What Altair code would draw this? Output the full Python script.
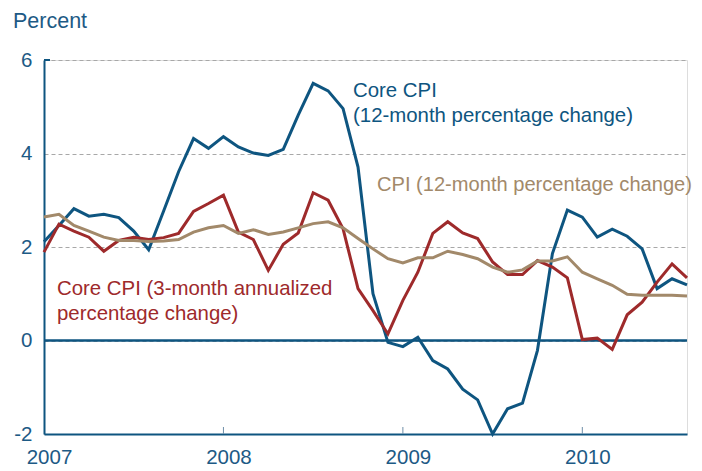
import altair as alt
import pandas as pd

# Monthly data, Jan 2007 .. Aug 2010
core_12m = [2.11, 2.46, 2.82, 2.66, 2.70, 2.63, 2.34, 1.94, 2.77, 3.61, 4.32, 4.11,
            4.36, 4.14, 4.01, 3.96, 4.09, 4.82, 5.50, 5.34, 4.96, 3.71, 1.00, -0.04,
            -0.13, 0.07, -0.43, -0.61, -1.04, -1.27, -2.00, -1.46, -1.34, -0.21, 1.86, 2.79,
            2.64, 2.21, 2.38, 2.23, 1.96, 1.11, 1.32, 1.19]
core_3m = [1.89, 2.49, 2.34, 2.21, 1.91, 2.14, 2.21, 2.16, 2.20, 2.29, 2.76, 2.93,
           3.11, 2.32, 2.16, 1.50, 2.06, 2.30, 3.16, 3.00, 2.39, 1.11, 0.64, 0.14,
           0.86, 1.46, 2.29, 2.54, 2.30, 2.18, 1.68, 1.41, 1.41, 1.71, 1.57, 1.34,
           0.02, 0.05, -0.19, 0.55, 0.82, 1.25, 1.64, 1.34]
cpi_12m = [2.64, 2.70, 2.46, 2.34, 2.21, 2.14, 2.14, 2.12, 2.13, 2.16, 2.32, 2.41,
           2.46, 2.29, 2.37, 2.27, 2.32, 2.41, 2.50, 2.54, 2.41, 2.18, 1.96, 1.75,
           1.66, 1.77, 1.77, 1.91, 1.84, 1.75, 1.57, 1.46, 1.51, 1.70, 1.70, 1.79,
           1.46, 1.32, 1.18, 0.99, 0.97, 0.97, 0.97, 0.95]
series_names = ["Core CPI 12m", "Core CPI 3m", "CPI 12m"]
year_ticks = [2007, 2008, 2009, 2010]
y_ticks = [-2, 0, 2, 4, 6]

BLUE = "#0e5580"
RED = "#9e2a2b"
TAN = "#a2896a"
TXT = "#1d5a85"
FONT = "Liberation Sans"

n = len(core_12m)
xs = [2007 + i / 12 for i in range(n)]
rows = []
for name, vals in zip(series_names, [core_12m, core_3m, cpi_12m]):
    for x, v in zip(xs, vals):
        rows.append({"x": x, "value": v, "series": name})
df = pd.DataFrame(rows)

W, H = 643, 374
xscale = alt.Scale(domain=[2007, xs[-1]], nice=False, zero=False)
yscale = alt.Scale(domain=[-2, 6], nice=False)

xaxis = alt.Axis(values=year_ticks, format="d", grid=False, ticks=False,
                 domainColor=BLUE, domainWidth=2, labelFont=FONT, labelFontSize=20.5,
                 labelColor=TXT, labelPadding=13, labelOffset=5, title=None,
                 labelFlush=False)
yaxis = alt.Axis(values=y_ticks, labelExpr="'' + datum.value", grid=True, gridDash=[4, 3],
                 gridColor="#a8a8a8", gridWidth=1, ticks=False,
                 domainColor=BLUE, domainWidth=2, labelFont=FONT, labelFontSize=20.5,
                 labelColor=TXT, labelPadding=12, title=None)

lines = alt.Chart(df).mark_line(strokeWidth=3).encode(
    x=alt.X("x:Q", scale=xscale, axis=xaxis),
    y=alt.Y("value:Q", scale=yscale, axis=yaxis),
    color=alt.Color("series:N", scale=alt.Scale(domain=series_names, range=[BLUE, RED, TAN]),
                    legend=None),
    order=alt.Order("x:Q"),
)

zero = alt.Chart(pd.DataFrame({"y": [0]})).mark_rule(color=BLUE, strokeWidth=2.5).encode(
    y=alt.Y("y:Q", scale=yscale)
)

xt = alt.Chart(pd.DataFrame({"x": year_ticks[1:]})).mark_rule(color="#6f8fa8", strokeWidth=1).encode(
    x=alt.X("x:Q", scale=xscale), y=alt.value(H), y2=alt.value(H - 7)
)

toptick = alt.Chart(pd.DataFrame({"y": [6]})).mark_rule(color=BLUE, strokeWidth=2).encode(
    y=alt.Y("y:Q", scale=yscale), x=alt.value(0), x2=alt.value(6)
)

def label(text, x, y, color, size=20.4, align="left"):
    return alt.Chart(pd.DataFrame({"t": [text]})).mark_text(
        font=FONT, fontSize=size, color=color, align=align, baseline="alphabetic"
    ).encode(text="t:N", x=alt.value(x), y=alt.value(y))

texts = [
    label("Percent", -31, -32, TXT, size=21.5),
    label("Core CPI", 309, 37, BLUE),
    label("(12-month percentage change)", 309, 62, BLUE),
    label("CPI (12-month percentage change)", 333, 131, TAN, size=20.1),
    label("Core CPI (3-month annualized", 13, 235, RED),
    label("percentage change)", 13, 260, RED),
]

chart = alt.layer(zero, lines, xt, toptick, *texts).properties(
    width=W, height=H,
    autosize=alt.AutoSizeParams(type="none"),
    padding={"left": 36, "top": 52, "right": 7, "bottom": 34},
).configure_view(stroke=None).configure(background="white")

chart.save("out.html", embed_options={"renderer": "svg", "actions": False})
